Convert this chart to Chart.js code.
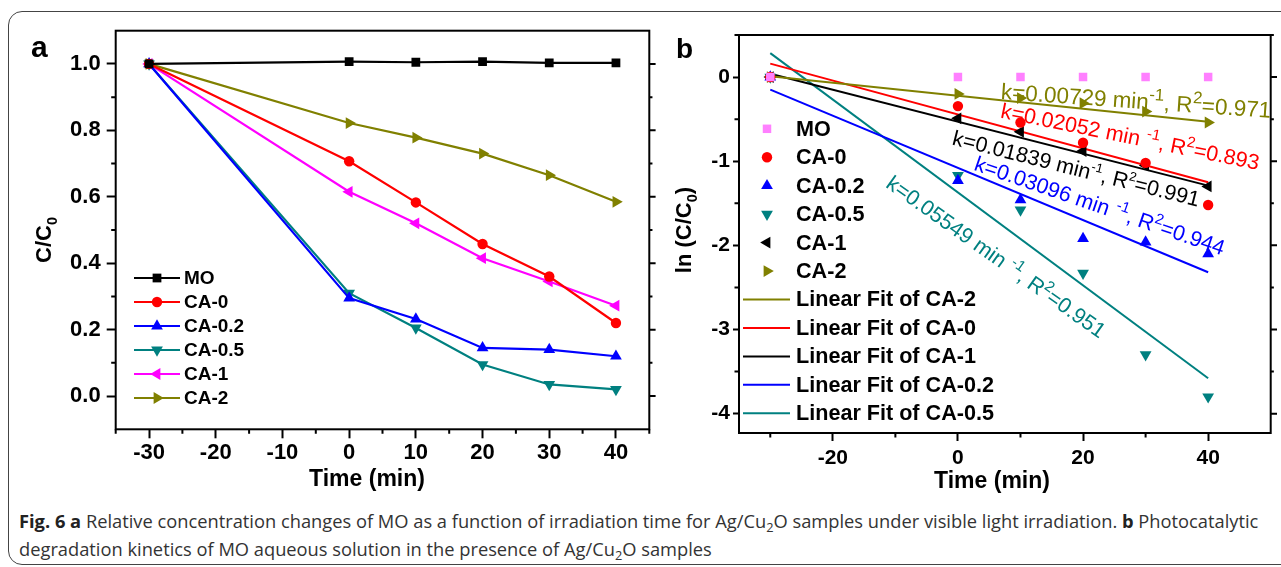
<!DOCTYPE html>
<html>
<head>
<meta charset="utf-8">
<script src="https://cdn.jsdelivr.net/npm/chart.js@4.4.0/dist/chart.umd.min.js"></script>
<style>
  html, body { margin: 0; padding: 0; background: #fff; }
  body { width: 1281px; height: 567px; position: relative; overflow: hidden; }
  #box { position: absolute; left: 8px; top: 11px; width: 1300px; height: 554px; border: 1.5px solid #444; border-radius: 14px; box-sizing: border-box; }
  #cA { position: absolute; left: 0; top: 0; }
  #cB { position: absolute; left: 668px; top: 0; }
  #cap { position: absolute; left: 19px; top: 507px; font-family: "Open Sans", sans-serif; font-size: 15.5px; line-height: 28px; color: #333; white-space: nowrap; }
  #cap b { color: #222; }
  #cap sub { font-size: 0.7em; line-height: 0; vertical-align: -0.3em; }
</style>
</head>
<body>
<div id="box"></div>
<canvas id="cA" width="668" height="500"></canvas>
<canvas id="cB" width="613" height="500"></canvas>
<div id="cap"><span id="l1"><b>Fig. 6 a</b> Relative concentration changes of MO as a function of irradiation time for Ag/Cu<sub>2</sub>O samples under visible light irradiation. <b>b</b> Photocatalytic</span><br>degradation kinetics of MO aqueous solution in the presence of Ag/Cu<sub>2</sub>O samples</div>
<script>
// ---- data ----
const timeA = [-30, 0, 10, 20, 30, 40];
const ratioMO   = [1.0, 1.007, 1.005, 1.007, 1.003, 1.003];
const ratioCA0  = [1.0, 0.707, 0.583, 0.458, 0.360, 0.220];
const ratioCA02 = [1.0, 0.295, 0.232, 0.145, 0.140, 0.120];
const ratioCA05 = [1.0, 0.310, 0.205, 0.095, 0.035, 0.020];
const ratioCA1  = [1.0, 0.615, 0.520, 0.415, 0.345, 0.272];
const ratioCA2  = [1.0, 0.822, 0.778, 0.730, 0.665, 0.585];

const lnMO   = [0, 0, 0, 0, 0, 0];
const lnCA0  = [0, -0.345, -0.54, -0.78, -1.02, -1.52];
const lnCA02 = [0, -1.23, -1.46, -1.92, -1.96, -2.10];
const lnCA05 = [0, -1.17, -1.58, -2.33, -3.30, -3.80];
const lnCA1  = [0, -0.49, -0.65, -0.88, -1.05, -1.30];
const lnCA2  = [0, -0.20, -0.25, -0.31, -0.41, -0.54];

const fitX     = [-30, 40];
const fitCA2   = [0.01, -0.53];
const fitCA0   = [0.16, -1.25];
const fitCA1   = [0.04, -1.29];
const fitCA02  = [-0.15, -2.32];
const fitCA05  = [0.285, -3.58];

const xTicksA = [-30, -20, -10, 0, 10, 20, 30, 40];
const xMinorA = [-35, -25, -15, -5, 5, 15, 25, 35, 45];
const yTicksA = [0, 0.2, 0.4, 0.6, 0.8, 1.0];
const yMinorA = [0.1, 0.3, 0.5, 0.7, 0.9];
const xTicksB = [-20, 0, 20, 40];
const xMinorB = [-30, -10, 10, 30];
const yTicksB = [0, -1, -2, -3, -4];
const yMinorB = [0.5, -0.5, -1.5, -2.5, -3.5];

const FONT = 'Liberation Sans, Arial, sans-serif';
Chart.defaults.font.family = FONT;
Chart.defaults.color = '#000';

function pts(xs, ys) { return ys.map((v, i) => ({ x: xs[i], y: v })); }

function drawMarker(ctx, style, rot, r, x, y, color) {
  ctx.save();
  ctx.translate(x, y);
  ctx.rotate((rot || 0) * Math.PI / 180);
  ctx.fillStyle = color;
  ctx.beginPath();
  if (style === 'circle') ctx.arc(0, 0, r, 0, 2 * Math.PI);
  else if (style === 'rect') { const s = r * Math.SQRT1_2; ctx.rect(-s, -s, 2 * s, 2 * s); }
  else {
    ctx.moveTo(0, -r);
    ctx.lineTo(r * Math.sin(2 * Math.PI / 3), -r * Math.cos(2 * Math.PI / 3));
    ctx.lineTo(r * Math.sin(4 * Math.PI / 3), -r * Math.cos(4 * Math.PI / 3));
    ctx.closePath();
  }
  ctx.fill();
  ctx.restore();
}

// text with sup/sub parts: [text, 'sup'|'sub'|'']
function drawRich(ctx, parts, x, y, angle, center, size, weight, color, supScale) {
  const ss = supScale || 0.66;
  ctx.save();
  ctx.translate(x, y);
  ctx.rotate(angle);
  ctx.fillStyle = color;
  ctx.textBaseline = 'alphabetic';
  const fontOf = p => weight + ' ' + (p[1] ? size * ss : size) + 'px ' + FONT;
  const w = parts.map(p => { ctx.font = fontOf(p); return ctx.measureText(p[0]).width; });
  let cx = center ? -w.reduce((a, b) => a + b, 0) / 2 : 0;
  parts.forEach((p, i) => {
    ctx.font = fontOf(p);
    const dy = p[1] === 'sup' ? -size * 0.42 : p[1] === 'sub' ? size * 0.25 : 0;
    ctx.fillText(p[0], cx, dy);
    cx += w[i];
  });
  ctx.restore();
}

const decor = {
  id: 'decor',
  afterDatasetsDraw(chart, args, o) {
    const { ctx, chartArea: a, scales } = chart;
    ctx.save();
    ctx.strokeStyle = '#000';
    ctx.lineWidth = 2;
    ctx.strokeRect(a.left, a.top, a.right - a.left, a.bottom - a.top);
    ctx.beginPath();
    o.xMinor.forEach(v => { const px = scales.x.getPixelForValue(v); ctx.moveTo(px, a.bottom); ctx.lineTo(px, a.bottom + o.minorLen); });
    o.yMinor.forEach(v => { const py = scales.y.getPixelForValue(v); ctx.moveTo(a.left, py); ctx.lineTo(a.left - o.minorLen, py);
      ctx.moveTo(a.right, py); ctx.lineTo(a.right + o.minorLen * 0.7, py); });
    o.yMajor.forEach(v => { const py = scales.y.getPixelForValue(v); ctx.moveTo(a.right, py); ctx.lineTo(a.right + o.minorLen * 1.4, py); });
    ctx.stroke();

    // legend
    const L = o.legend;
    L.items.forEach((it, i) => {
      const ds = chart.data.datasets[it.ds];
      const y = L.y0 + i * L.dy;
      if (it.line) {
        ctx.strokeStyle = ds.borderColor;
        ctx.lineWidth = ds.borderWidth;
        ctx.beginPath(); ctx.moveTo(L.x1, y); ctx.lineTo(L.x2, y); ctx.stroke();
      }
      if (it.marker) drawMarker(ctx, ds.pointStyle, ds.pointRotation, ds.pointRadius, it.line ? (L.x1 + L.x2) / 2 : L.mx, y, ds.pointBackgroundColor);
      ctx.fillStyle = '#000';
      ctx.font = 'bold ' + L.size + 'px ' + FONT;
      ctx.textBaseline = 'middle';
      ctx.fillText(ds.label, L.tx, y + 1);
    });

    // titles
    drawRich(ctx, o.yTitle.parts, o.yTitle.x, o.yTitle.y, -Math.PI / 2, true, o.yTitle.size, 'bold', '#000');
    drawRich(ctx, [['Time (min)', '']], o.xTitle.x, o.xTitle.y, 0, true, o.xTitle.size, 'bold', '#000');
    drawRich(ctx, [[o.tag.t, '']], o.tag.x, o.tag.y, 0, false, o.tag.size, 'bold', '#000');

    // annotations
    (o.notes || []).forEach(n => {
      const px = scales.x.getPixelForValue(n.x), py = scales.y.getPixelForValue(n.y);
      drawRich(ctx, n.parts, px, py, n.angle * Math.PI / 180, false, n.size, 'normal', n.color, n.sup);
    });
    ctx.restore();
  }
};

function axisX(min, max, major, h, tl, pad, size) {
  return {
    type: 'linear', min, max,
    afterBuildTicks: s => { s.ticks = major.map(v => ({ value: v })); },
    afterFit: s => { s.height = h; },
    ticks: { font: { size, weight: 'bold' }, color: '#000', padding: pad, autoSkip: false, maxRotation: 0 },
    grid: { drawOnChartArea: false, tickLength: tl, tickWidth: 2, tickColor: '#000' },
    border: { display: false }
  };
}
function axisY(min, max, major, w, tl, pad, size, fmt) {
  return {
    type: 'linear', min, max,
    afterBuildTicks: s => { s.ticks = major.map(v => ({ value: v })); },
    afterFit: s => { s.width = w; },
    ticks: { font: { size, weight: 'bold' }, color: '#000', padding: pad, callback: fmt },
    grid: { drawOnChartArea: false, tickLength: tl, tickWidth: 2, tickColor: '#000' },
    border: { display: false }
  };
}

function lineDs(label, data, color, style, rot, r) {
  return {
    label, data: pts(timeA, data), borderColor: color, backgroundColor: color,
    pointBackgroundColor: color, pointBorderColor: color, pointStyle: style, pointRotation: rot,
    pointRadius: r, pointBorderWidth: 0, borderWidth: 2.2, tension: 0
  };
}

new Chart(document.getElementById('cA'), {
  type: 'line',
  data: {
    datasets: [
      lineDs('MO', ratioMO, '#000000', 'rect', 0, 6.2),
      lineDs('CA-0', ratioCA0, '#ff0000', 'circle', 0, 5.2),
      lineDs('CA-0.2', ratioCA02, '#0000ff', 'triangle', 0, 6.8),
      lineDs('CA-0.5', ratioCA05, '#008080', 'triangle', 180, 6.8),
      lineDs('CA-1', ratioCA1, '#ff00ff', 'triangle', -90, 6.8),
      lineDs('CA-2', ratioCA2, '#808000', 'triangle', 90, 6.8)
    ]
  },
  options: {
    responsive: false, animation: false,
    layout: { padding: { top: 30.7, right: 18.7, left: 0, bottom: 0 } },
    plugins: {
      legend: { display: false }, tooltip: { enabled: false },
      decor: {
        xMinor: xMinorA, yMinor: yMinorA, yMajor: yTicksA, minorLen: 4.5,
        legend: { items: [0, 1, 2, 3, 4, 5].map(i => ({ ds: i, line: true, marker: true })), x1: 134, x2: 180, tx: 184, y0: 278, dy: 24, size: 19 },
        yTitle: { parts: [['C/C', ''], ['0', 'sub']], x: 51, y: 240, size: 22 },
        xTitle: { x: 367, y: 486, size: 23 },
        tag: { t: 'a', x: 31, y: 57, size: 30 }
      }
    },
    scales: {
      x: axisX(-35, 45, xTicksA, 70.7, 9, 1, 22),
      y: axisY(-0.1, 1.1, yTicksA, 115.7, 9, 6, 22, v => Number(v).toFixed(1))
    }
  },
  plugins: [decor]
});

function fitDs(label, ys, color) {
  return { label, data: pts(fitX, ys), showLine: true, borderColor: color, backgroundColor: color, borderWidth: 2, pointRadius: 0, tension: 0 };
}
function dotDs(label, ys, color, style, rot, r) {
  return { label, data: pts(timeA, ys), showLine: false, borderColor: color, backgroundColor: color,
    pointBackgroundColor: color, pointBorderWidth: 0, pointStyle: style, pointRotation: rot, pointRadius: r };
}

new Chart(document.getElementById('cB'), {
  type: 'scatter',
  data: {
    datasets: [
      dotDs('MO', lnMO, '#ff80ff', 'rect', 0, 6),
      dotDs('CA-0', lnCA0, '#ff0000', 'circle', 0, 5.2),
      dotDs('CA-0.2', lnCA02, '#0000ff', 'triangle', 0, 6.8),
      dotDs('CA-0.5', lnCA05, '#008080', 'triangle', 180, 6.8),
      dotDs('CA-1', lnCA1, '#000000', 'triangle', -90, 6.8),
      dotDs('CA-2', lnCA2, '#808000', 'triangle', 90, 6.8),
      fitDs('Linear Fit of CA-2', fitCA2, '#808000'),
      fitDs('Linear Fit of CA-0', fitCA0, '#ff0000'),
      fitDs('Linear Fit of CA-1', fitCA1, '#000000'),
      fitDs('Linear Fit of CA-0.2', fitCA02, '#0000ff'),
      fitDs('Linear Fit of CA-0.5', fitCA05, '#008080')
    ]
  },
  options: {
    responsive: false, animation: false,
    layout: { padding: { top: 35, right: 10.3, left: 0, bottom: 0 } },
    plugins: {
      legend: { display: false }, tooltip: { enabled: false },
      decor: {
        xMinor: xMinorB, yMinor: yMinorB, yMajor: yTicksB, minorLen: 4.5,
        legend: {
          items: [0, 1, 2, 3, 4, 5].map(i => ({ ds: i, line: false, marker: true }))
            .concat([6, 7, 8, 9, 10].map(i => ({ ds: i, line: true, marker: false }))),
          mx: 99, x1: 75, x2: 122, tx: 128, y0: 128.8, dy: 28.45, size: 21.6
        },
        yTitle: { parts: [['ln (C/C', ''], ['0', 'sub'], [')', '']], x: 23, y: 230, size: 22 },
        xTitle: { x: 324, y: 488, size: 23 },
        tag: { t: 'b', x: 8, y: 58, size: 28 },
        notes: [
          { x: 6.8, y: -0.26, angle: 4, size: 22.5, sup: 0.75, color: '#808000', parts: [['k=0.00729 min', ''], ['-1', 'sup'], [', R', ''], ['2', 'sup'], ['=0.971', '']] },
          { x: 6.7, y: -0.48, angle: 11.5, size: 21.5, sup: 0.7, color: '#ff0000', parts: [['k=0.02052 min ', ''], ['-1', 'sup'], [', R', ''], ['2', 'sup'], ['=0.893', '']] },
          { x: -1.06, y: -0.80, angle: 14.2, size: 21.5, sup: 0.6, color: '#000000', parts: [['k=0.01839 min', ''], ['-1', 'sup'], [', R', ''], ['2', 'sup'], ['=0.991', '']] },
          { x: 2.4, y: -1.10, angle: 19, size: 21.5, sup: 0.7, color: '#0000ff', parts: [['k=0.03096 min ', ''], ['-1', 'sup'], [', R', ''], ['2', 'sup'], ['=0.944', '']] },
          { x: -11.7, y: -1.30, angle: 35.4, size: 21.5, sup: 0.7, color: '#008080', parts: [['k=0.05549 min ', ''], ['-1', 'sup'], [', R', ''], ['2', 'sup'], ['=0.951', '']] }
        ]
      }
    },
    scales: {
      x: axisX(-35, 50, xTicksB, 67, 8, 5, 21),
      y: axisY(-4.23, 0.5, yTicksB, 71, 6, 3, 21, v => String(v))
    }
  },
  plugins: [decor]
});

// fit caption first line to the reference width
const l1 = document.getElementById('l1');
const w1 = l1.getBoundingClientRect().width;
const cap = document.getElementById('cap');
cap.style.fontSize = (15.5 * 1240 / w1) + 'px';
</script>
</body>
</html>
